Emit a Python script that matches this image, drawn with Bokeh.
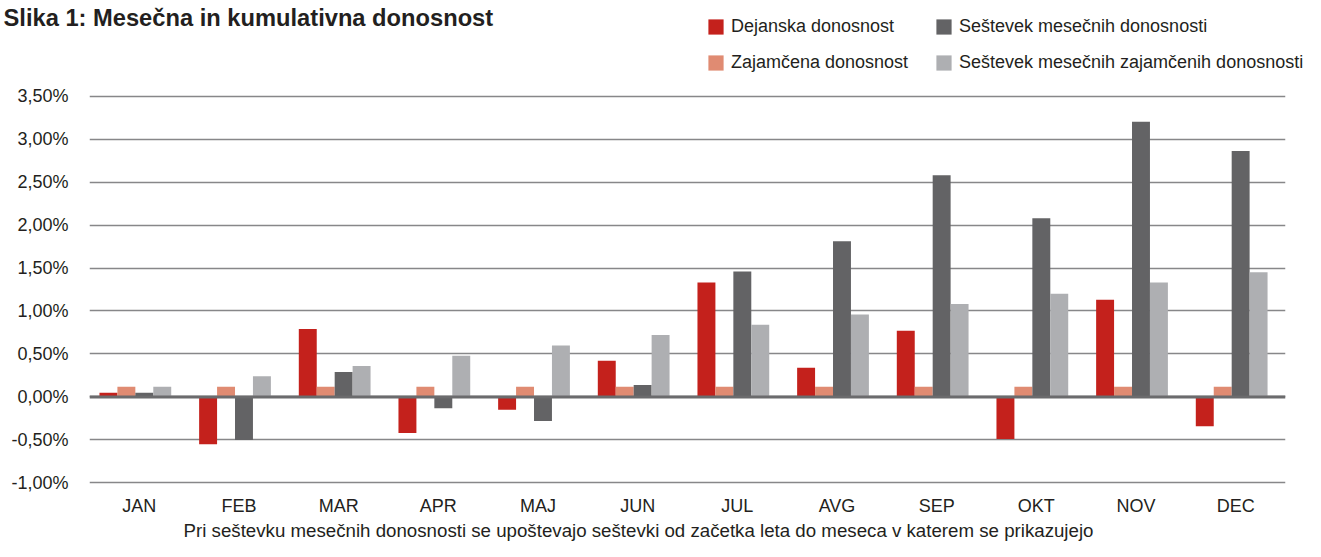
from bokeh.plotting import figure
from bokeh.layouts import column
from bokeh.models import ColumnDataSource, FixedTicker, Span, Label, Legend, LegendItem, Range1d
from bokeh.transform import dodge
from bokeh.embed import file_html
from bokeh.resources import INLINE

months = ["JAN", "FEB", "MAR", "APR", "MAJ", "JUN", "JUL", "AVG", "SEP", "OKT", "NOV", "DEC"]
dejanska = [0.05, -0.55, 0.79, -0.42, -0.15, 0.42, 1.33, 0.34, 0.77, -0.49, 1.13, -0.34]
zajamcena = [0.12, 0.12, 0.12, 0.12, 0.12, 0.12, 0.12, 0.12, 0.12, 0.12, 0.12, 0.12]
sestevek = [0.05, -0.50, 0.29, -0.13, -0.28, 0.14, 1.46, 1.81, 2.58, 2.08, 3.20, 2.86]
sestevek_zaj = [0.12, 0.24, 0.36, 0.48, 0.60, 0.72, 0.84, 0.96, 1.08, 1.20, 1.33, 1.45]
yticks = [-1, -0.5, 0, 0.5, 1, 1.5, 2, 2.5, 3, 3.5]
ytick_labels = ["-1,00%", "-0,50%", "0,00%", "0,50%", "1,00%", "1,50%", "2,00%", "2,50%", "3,00%", "3,50%"]

title_text = "Slika 1: Mesečna in kumulativna donosnost"
footnote = "Pri seštevku mesečnih donosnosti se upoštevajo seštevki od začetka leta do meseca v katerem se prikazujejo"
series_names = ["Dejanska donosnost", "Zajamčena donosnost", "Seštevek mesečnih donosnosti", "Seštevek mesečnih zajamčenih donosnosti"]
colors = ["#C4211C", "#E08B72", "#636365", "#AEAFB2"]

FONT = "Liberation Sans"
TXT = "#231F20"
W = 1305
H_HEAD, H_MAIN, H_FOOT = 80, 438, 23


def blank(h):
    f = figure(width=W, height=h, x_range=Range1d(0, W), y_range=Range1d(0, h),
               output_backend="svg", toolbar_location=None,
               x_axis_location=None, y_axis_location=None,
               min_border=0, min_border_left=0, min_border_right=0,
               min_border_top=0, min_border_bottom=0, frame_align=False)
    f.grid.visible = False
    f.outline_line_color = None
    return f


# ---- header: title + legend
head = blank(H_HEAD)
head.add_layout(Label(x=3, y=H_HEAD - 17, text=title_text, text_font=FONT, text_font_size="23.7px",
                      text_font_style="bold", text_color=TXT, text_align="left",
                      text_baseline="middle"))
# zero-size swatch renderers (nothing visible in the plot), used only for the legend keys
swatches = [head.vbar(x=[0], top=[0], bottom=[0], width=0, fill_color=c, line_color=None) for c in colors]


def mk_legend(items, x, y):
    return Legend(items=items, location=(x, y), orientation="vertical",
                  label_text_font=FONT, label_text_font_size="18px", label_text_color=TXT,
                  glyph_width=19, glyph_height=19, label_height=21, label_standoff=6,
                  spacing=15, padding=0, margin=0, border_line_color=None,
                  background_fill_alpha=0)


head.add_layout(mk_legend([LegendItem(label=series_names[0], renderers=[swatches[0]]),
                           LegendItem(label=series_names[1], renderers=[swatches[1]])], 706, 7), "center")
head.add_layout(mk_legend([LegendItem(label=series_names[2], renderers=[swatches[2]]),
                           LegendItem(label=series_names[3], renderers=[swatches[3]])], 934, 7), "center")

# ---- main chart
source = ColumnDataSource(dict(month=months, d=dejanska, z=zajamcena, s=sestevek, sz=sestevek_zaj))

p = figure(width=W, height=H_MAIN, x_range=months, y_range=Range1d(-1.03, 3.53),
           output_backend="svg", toolbar_location=None,
           min_border_left=89, min_border_right=20, min_border_top=13, min_border_bottom=31)
p.outline_line_color = None
p.xgrid.grid_line_color = None
p.ygrid.ticker = FixedTicker(ticks=yticks)
p.ygrid.grid_line_color = "#878789"
p.ygrid.grid_line_width = 1.3

p.yaxis.ticker = FixedTicker(ticks=yticks)
p.yaxis.major_label_overrides = {t: l for t, l in zip(yticks, ytick_labels)}
for ax in (p.xaxis[0], p.yaxis[0]):
    ax.axis_line_color = None
    ax.major_tick_line_color = None
    ax.minor_tick_line_color = None
    ax.major_tick_out = 0
    ax.major_tick_in = 0
    ax.major_label_text_font = FONT
    ax.major_label_text_font_size = "18px"
    ax.major_label_text_color = TXT
p.yaxis.major_label_standoff = 21
p.xaxis.major_label_standoff = 10

offsets = [-0.31, -0.13, 0.05, 0.23]
fields = ["d", "z", "s", "sz"]
for f, off, c in zip(fields, offsets, colors):
    p.vbar(x=dodge("month", off, range=p.x_range), top=f, bottom=0, width=0.18,
           source=source, fill_color=c, line_color=None)

p.add_layout(Span(location=0, dimension="width", line_color="#6b6b6d", line_width=3, level="overlay"))

# ---- footer: note
foot = blank(H_FOOT)
foot.add_layout(Label(x=638, y=H_FOOT / 2, text=footnote, text_font=FONT, text_font_size="18.7px",
                      text_color=TXT, text_align="center", text_baseline="middle"))

layout = column(head, p, foot, spacing=0)
open("out.html", "w").write(file_html(layout, INLINE))
